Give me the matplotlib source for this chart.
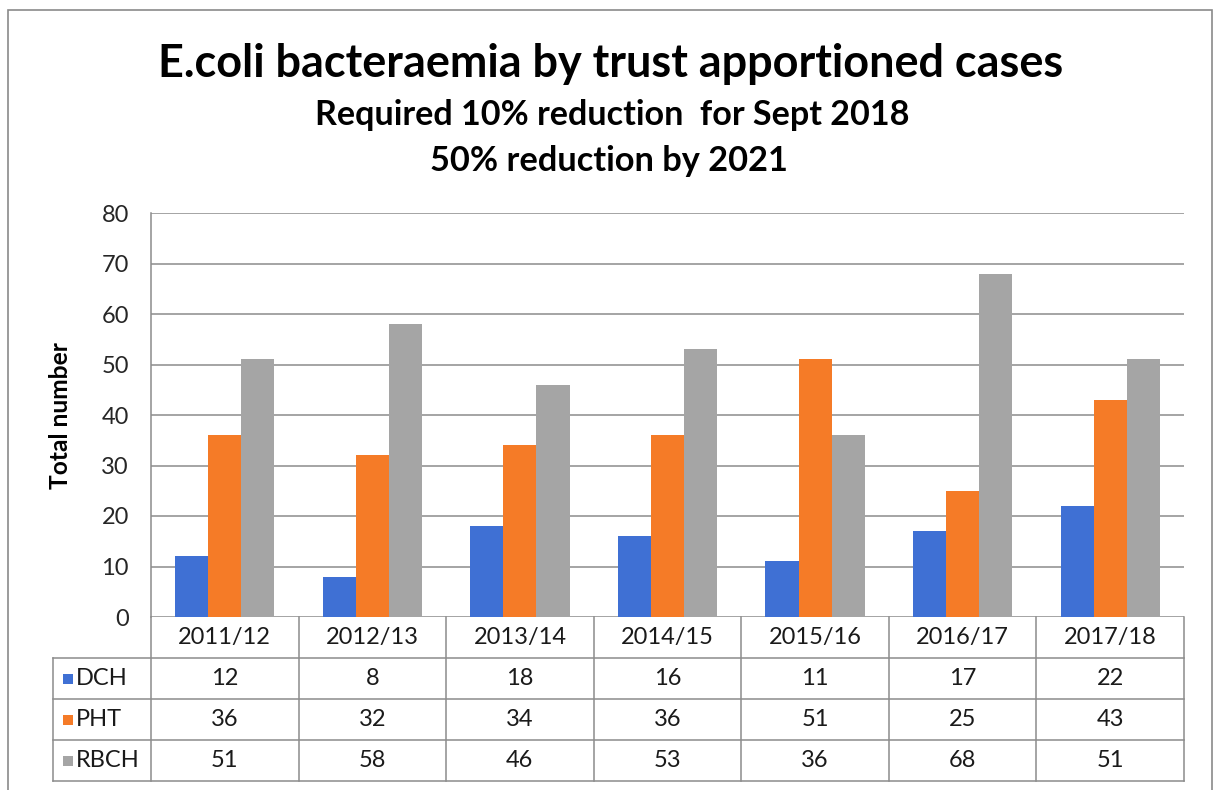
import matplotlib
matplotlib.use("Agg")
import matplotlib.pyplot as plt
from matplotlib.patches import Rectangle
from matplotlib.lines import Line2D
import numpy as np

# ---- data ----
years = ["2011/12", "2012/13", "2013/14", "2014/15", "2015/16", "2016/17", "2017/18"]
series_names = ["DCH", "PHT", "RBCH"]
dch = [12, 8, 18, 16, 11, 17, 22]
pht = [36, 32, 34, 36, 51, 25, 43]
rbch = [51, 58, 46, 53, 36, 68, 51]
y_ticks = [0, 10, 20, 30, 40, 50, 60, 70, 80]

title = "E.coli bacteraemia by trust apportioned cases"
subtitle1 = "Required 10% reduction  for Sept 2018"
subtitle2 = "50% reduction by 2021"
y_label = "Total number"

colors = ["#3F70D4", "#F57B27", "#A5A5A5"]
line_col = "#8C8C8C"
W, H = 1218, 790

fig = plt.figure(figsize=(W / 100, H / 100), dpi=100)
fig.patch.set_facecolor("white")

def fx(px):
    return px / W

def fy(py):
    return 1 - py / H

# plot area (pixel box)
left_px, right_px, top_px, zero_px = 151, 1184, 213, 617
ax = fig.add_axes([fx(left_px), fy(zero_px), fx(right_px - left_px), (zero_px - top_px) / H])
n = len(years)
x = np.arange(n)
bw = 0.224
for i, (vals, c) in enumerate(zip([dch, pht, rbch], colors)):
    ax.bar(x + (i - 1) * bw, vals, width=bw, color=c, zorder=3, linewidth=0)
ax.set_xlim(-0.5, n - 0.5)
ax.set_ylim(0, 80)
ax.set_yticks(y_ticks)
ax.set_xticks([])
ax.grid(axis="y", color=line_col, linewidth=1.1, zorder=0)
for s in ["top", "right", "bottom"]:
    ax.spines[s].set_visible(False)
ax.spines["left"].set_color(line_col)
ax.spines["left"].set_linewidth(1.1)
ax.tick_params(axis="y", length=0, pad=16, labelsize=17, labelcolor="#262626")
for lab in ax.get_yticklabels():
    lab.set_fontfamily("Lato")
ax.set_facecolor("none")

# ---- data table below the plot ----
row_h = 41
unit_px = (right_px - left_px) / n
tab_left_px = 53
tab = fig.add_axes([fx(left_px), fy(zero_px + 4 * row_h), fx(right_px - left_px), 4 * row_h / H])
tab.set_xlim(-0.5, n - 0.5)
tab.set_ylim(4, 0)
tab.axis("off")

def ux(px):
    return -0.5 + (px - left_px) / unit_px

lk = dict(color=line_col, linewidth=1.1, clip_on=False)
# horizontal rules
for r in range(1, 5):
    tab.add_line(Line2D([ux(tab_left_px), n - 0.5], [r, r], **lk))
# vertical rules
for c in range(n + 1):
    tab.add_line(Line2D([c - 0.5, c - 0.5], [0, 4], **lk))
tab.add_line(Line2D([ux(tab_left_px), ux(tab_left_px)], [1, 4], **lk))

txt = dict(ha="center", va="center", family="Lato", fontsize=17, color="#1a1a1a", clip_on=False)
for c, yr in enumerate(years):
    tab.text(c, 0.5, yr, **txt)
for r, (name, vals, col) in enumerate(zip(series_names, [dch, pht, rbch], colors), start=1):
    sq = 10 / unit_px
    tab.add_patch(Rectangle((ux(63), r + 0.5 - 5 / row_h), sq, 10 / row_h,
                            color=col, clip_on=False, linewidth=0))
    tab.text(ux(76), r + 0.5, name, ha="left", va="center", family="Lato",
             fontsize=17, color="#1a1a1a", clip_on=False)
    for c, v in enumerate(vals):
        tab.text(c, r + 0.5, str(v), **txt)

# ---- titles ----
fig.canvas.draw()
renderer = fig.canvas.get_renderer()

def fitted(s, cx, base_py, width_px, **kw):
    t = fig.text(fx(cx), fy(base_py), s, ha="center", va="baseline", fontsize=30, **kw)
    bb = t.get_window_extent(renderer)
    t.set_fontsize(30 * width_px / bb.width)
    return t

bold = dict(family="Lato", fontweight="bold", color="black")
fitted(title, 611, 77, 905, **bold)
fitted(subtitle1, 612, 125, 593, **bold)
fitted(subtitle2, 609, 171, 357, **bold)

# vertical axis title, sized to its span
yl = fig.text(fx(60), fy(416), y_label, rotation=90, ha="center", va="center",
              fontsize=15, **bold)
bb = yl.get_window_extent(renderer)
yl.set_fontsize(15 * 147 / bb.height)

# outer frame
fig.add_artist(Rectangle((fx(8), fy(800)), fx(1212 - 8), (800 - 10) / H,
                         transform=fig.transFigure, fill=False,
                         edgecolor="#8A8A8A", linewidth=1.2, clip_on=False))

fig.savefig("out.png", dpi=100, facecolor="white")
